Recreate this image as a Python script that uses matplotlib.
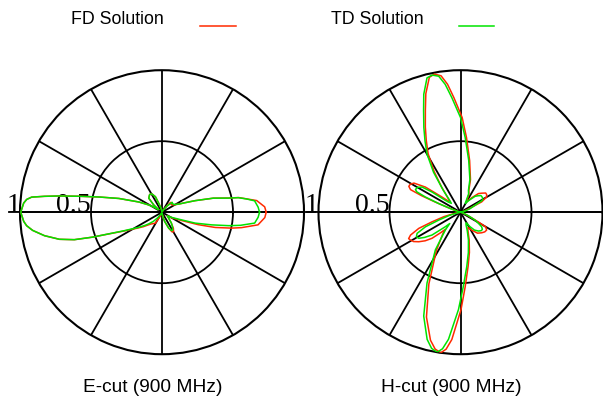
import numpy as np
import matplotlib.pyplot as plt
from matplotlib.lines import Line2D

# ---- data (angle in degrees, normalised |E|) ----
# E-cut, FD solution (red)
e_fd_theta = [0, 3, 7, 10.8, 12, 15.3, 19.2, 22.3, 26, 31, 38, 42, 46, 49, 52, 58,
              70, 95, 104, 110, 113, 118.7, 123, 126, 133.5, 138.7, 143, 147,
              151.2, 156.2, 162.3, 166.4, 169.1, 171, 172.3, 173.4, 174.6, 176.2,
              180, 183.8, 185.7, 188, 191.3, 194.8, 197.4, 199.7, 202.2, 206,
              213.1, 218, 221.3, 226.5, 233, 239, 244, 250, 275, 282, 286, 292.7,
              297, 300.5, 305, 311, 318, 325, 330, 337, 341, 344, 347.1, 349,
              352.5, 357, 360]
e_fd_r = [0.734, 0.724, 0.672, 0.55, 0.48, 0.375, 0.247, 0.177, 0.13, 0.1, 0.085,
          0.085, 0.095, 0.09, 0.05, 0.02,
          0.005, 0.005, 0.03, 0.067, 0.118, 0.146, 0.152, 0.15, 0.135, 0.077, 0.03, 0.06,
          0.106, 0.178, 0.318, 0.455, 0.593, 0.731, 0.835, 0.924, 0.957, 0.976,
          0.995, 0.976, 0.958, 0.92, 0.844, 0.747, 0.647, 0.522, 0.405, 0.305,
          0.205, 0.165, 0.14, 0.115, 0.1, 0.09, 0.04, 0.01, 0.01, 0.04, 0.068, 0.121,
          0.155, 0.16, 0.14, 0.10, 0.063, 0.045, 0.08, 0.15, 0.27, 0.39, 0.502, 0.57,
          0.682, 0.725, 0.734]

# E-cut, TD solution (green)
e_td_theta = [0, 3, 7, 9, 10.8, 12, 15.3, 19.2, 22.3, 26, 31, 38, 44, 50, 58,
              70, 95, 104, 110, 113, 118.7, 123, 126, 133.5, 138.7, 143, 147,
              151.2, 156.2, 162.3, 166.4, 169.1, 171, 172.3, 173.4, 174.6, 176.2,
              180, 183.8, 185.7, 188, 191.3, 194.8, 197.4, 199.7, 202.2, 206,
              213.1, 218, 221.3, 226.5, 232, 240, 250, 275, 282, 286, 292.7,
              297.1, 300, 304.8, 311, 318, 325, 330, 337.3, 341.8, 345.7, 348.6,
              350.5, 353.3, 357, 360]
e_td_r = [0.687, 0.678, 0.657, 0.6, 0.546, 0.477, 0.375, 0.247, 0.177, 0.13, 0.105,
          0.095, 0.10, 0.06, 0.02,
          0.005, 0.005, 0.03, 0.067, 0.118, 0.146, 0.152, 0.15, 0.135, 0.077, 0.03, 0.06,
          0.106, 0.178, 0.318, 0.455, 0.593, 0.731, 0.835, 0.924, 0.957, 0.976,
          0.995, 0.976, 0.958, 0.92, 0.844, 0.747, 0.647, 0.522, 0.402, 0.298,
          0.195, 0.15, 0.124, 0.09, 0.05, 0.02, 0.005, 0.01, 0.04, 0.068, 0.121,
          0.145, 0.148, 0.131, 0.10, 0.063, 0.045, 0.07, 0.127, 0.246, 0.361, 0.48,
          0.56, 0.657, 0.678, 0.687]

# H-cut, FD solution (red)
h_fd_theta = [0, 10, 18, 22, 24.5, 26, 30.2, 34, 37.3, 42, 46.1, 52, 58.5, 62, 65,
              69, 73, 80, 85.4, 89, 93.3, 95.8, 98.1, 100.7, 103, 106.3, 109, 112.4,
              115.5, 119, 123, 127, 131, 135, 138, 140.7, 144.4, 148, 151, 153.4,
              155.7, 157, 158, 159.5, 163, 170, 188, 192, 195, 198.7, 201.2, 204.6,
              207, 209.1, 212, 215.3, 219, 222.5, 226, 228.5, 231, 237.8, 246.2,
              252, 256.8, 259.5, 262, 264, 266.1, 270.3, 273.5, 278, 282.5, 287.4,
              292, 296, 299, 302.1, 309, 315.8, 321, 325.6, 329.8, 331, 333, 337,
              345, 360]
h_fd_r = [0.0, 0.01, 0.03, 0.06, 0.1, 0.166, 0.213, 0.222, 0.223, 0.2, 0.182, 0.13,
          0.085, 0.1, 0.14,
          0.164, 0.24, 0.37, 0.527, 0.667, 0.808, 0.906, 0.97, 0.99, 0.975, 0.87, 0.76,
          0.65, 0.56, 0.47, 0.34, 0.22, 0.14, 0.1, 0.12, 0.169, 0.304, 0.387, 0.405,
          0.407, 0.386, 0.3, 0.2, 0.1, 0.03, 0.0, 0.0, 0.05, 0.12, 0.212, 0.315,
          0.387, 0.41, 0.403, 0.39, 0.36, 0.32, 0.272, 0.2, 0.16, 0.2, 0.319, 0.552,
          0.776, 0.926, 0.98, 1.0, 0.97, 0.899, 0.686, 0.53, 0.385, 0.29, 0.204,
          0.14, 0.12, 0.13, 0.149, 0.19, 0.208, 0.22, 0.223, 0.205, 0.15, 0.09, 0.04,
          0.01, 0.0]

# H-cut, TD solution (green)
h_td_theta = [0, 10, 15.5, 20, 25.5, 28.6, 33, 38.9, 43, 47.4, 55, 61.6, 66, 70, 74,
              81, 86.4, 90, 94.3, 96.8, 99.1, 101.7, 104, 107.3, 110, 113.4, 116.5,
              120, 124, 128, 132, 136, 140, 142, 144.7, 146.8, 150, 153.3, 155,
              156.6, 158.4, 160, 164, 170, 190, 194, 196, 200, 202.6, 206, 209, 212,
              215, 218.7, 223.8, 226.5, 229.6, 236.3, 244.7, 250.5, 255.3, 258,
              260.5, 262.5, 264.6, 268.8, 272, 276.6, 281, 285.9, 290, 294, 298,
              303.4, 308, 313.5, 318, 321.8, 325.4, 328, 331.4, 336, 342, 350, 360]
h_td_r = [0.0, 0.005, 0.034, 0.07, 0.114, 0.175, 0.186, 0.186, 0.17, 0.152, 0.1,
          0.07, 0.14, 0.164, 0.24,
          0.37, 0.527, 0.667, 0.808, 0.906, 0.97, 0.986, 0.975, 0.87, 0.76, 0.65, 0.56,
          0.47, 0.34, 0.2, 0.12, 0.09, 0.11, 0.136, 0.246, 0.323, 0.35, 0.355, 0.34,
          0.269, 0.165, 0.08, 0.02, 0.0, 0.0, 0.04, 0.08, 0.164, 0.267, 0.34, 0.355,
          0.347, 0.31, 0.257, 0.148, 0.11, 0.165, 0.319, 0.552, 0.776, 0.926, 0.98,
          1.0, 0.97, 0.899, 0.686, 0.53, 0.385, 0.29, 0.204, 0.14, 0.095, 0.085,
          0.123, 0.16, 0.183, 0.195, 0.196, 0.181, 0.15, 0.117, 0.06, 0.02, 0.0, 0.0]

panels = [
    ('E-cut (900 MHz)', e_fd_theta, e_fd_r, e_td_theta, e_td_r),
    ('H-cut (900 MHz)', h_fd_theta, h_fd_r, h_td_theta, h_td_r),
]

RED = '#ff2a00'
GREEN = '#00e400'
W, H = 603, 397

fig = plt.figure(figsize=(W / 100, H / 100), dpi=100)

# polar centres in pixels, radius 142 px
centres = [(162, 212.2), (460.5, 212.2)]
rad = 142

for (title, fd_t, fd_r, td_t, td_r), (cx, cy) in zip(panels, centres):
    ax = fig.add_axes([(cx - rad) / W, (H - cy - rad) / H, 2 * rad / W, 2 * rad / H],
                      projection='polar')
    ax.set_ylim(0, 1)
    ax.set_thetagrids(np.arange(0, 360, 30), labels=[])
    ax.set_rgrids([0.5], labels=[''])
    ax.grid(True, color='black', linewidth=1.3)
    ax.spines['polar'].set_linewidth(1.5)
    ax.spines['polar'].set_color('black')
    ax.tick_params(length=0)

    # horizontal axis sticks out a bit past the outer ring
    ax.plot([np.pi, np.pi], [0, 1.08], color='black', lw=1.3, clip_on=False, zorder=1)
    ax.plot([0, 0], [0, 1.08], color='black', lw=1.3, clip_on=False, zorder=1)

    ax.text(np.pi, 1.0, '1', ha='right', va='baseline', fontsize=20,
            family='Liberation Serif', clip_on=False)
    ax.text(np.pi, 0.5, '0.5', ha='right', va='baseline', fontsize=20,
            family='Liberation Serif')

    ax.plot(np.radians(fd_t), fd_r, color=RED, lw=1.1, zorder=3)
    ax.plot(np.radians(td_t), td_r, color=GREEN, lw=1.1, zorder=4)

    fig.text(cx / W - 0.015, 1 - 387 / H, title, ha='center', va='center',
             fontsize=13.8, family='Liberation Sans')

# legend along the top
fig.text(117.5 / W, 1 - 20 / H, 'FD Solution', ha='center', va='center',
         fontsize=12.8, family='Liberation Sans')
fig.text(377.5 / W, 1 - 20 / H, 'TD Solution', ha='center', va='center',
         fontsize=12.8, family='Liberation Sans')
fig.add_artist(Line2D([200 / W, 236 / W], [1 - 26 / H] * 2, color=RED, lw=1.1))
fig.add_artist(Line2D([459 / W, 494 / W], [1 - 26 / H] * 2, color=GREEN, lw=1.1))

fig.savefig('out.png', dpi=100)
